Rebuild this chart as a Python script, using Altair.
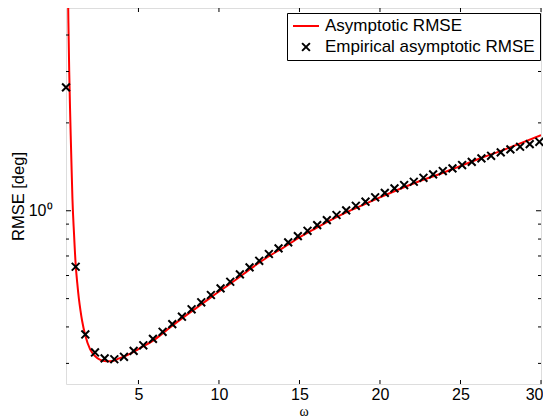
import altair as alt
import pandas as pd

# Asymptotic RMSE curve
curve_x = [0.5, 0.55, 0.6, 0.65, 0.7, 0.75, 0.8, 0.85, 0.9, 1.0, 1.1, 1.2, 1.3, 1.4, 1.5, 1.7,
           2.0, 2.3, 2.6, 3.0, 3.4, 3.8, 4.4, 5.0, 6, 7, 8, 9, 10, 11, 12, 13, 14, 15, 16,
           17, 18, 19, 20, 22, 24, 26, 28, 30]
curve_y = [30.0, 13.3, 7.0, 4.4, 3.0, 2.25, 1.75, 1.38, 1.1, 0.83, 0.655, 0.565, 0.5, 0.455, 0.42, 0.374,
           0.335, 0.318, 0.309, 0.305, 0.306, 0.312, 0.322, 0.336, 0.362, 0.40, 0.44, 0.482, 0.529, 0.578, 0.635, 0.693, 0.748, 0.81, 0.87,
           0.932, 0.993, 1.05, 1.111, 1.235, 1.355, 1.495, 1.643, 1.816]

# Empirical asymptotic RMSE (omega = 0.5, 1.1, ..., 29.9)
emp_x = [0.5, 1.1, 1.7, 2.3, 2.9, 3.5, 4.1, 4.7, 5.3, 5.9,
         6.5, 7.1, 7.7, 8.3, 8.9, 9.5, 10.1, 10.7, 11.3, 11.9,
         12.5, 13.1, 13.7, 14.3, 14.9, 15.5, 16.1, 16.7, 17.3, 17.9,
         18.5, 19.1, 19.7, 20.3, 20.9, 21.5, 22.1, 22.7, 23.3, 23.9,
         24.5, 25.1, 25.7, 26.3, 26.9, 27.5, 28.1, 28.7, 29.3, 29.9]
emp_y = [2.646, 0.643, 0.377, 0.327, 0.312, 0.310, 0.316, 0.331, 0.346, 0.364,
         0.385, 0.409, 0.4335, 0.4596, 0.4857, 0.5145, 0.5423, 0.5712, 0.6056, 0.640,
         0.674, 0.711, 0.743, 0.779, 0.819, 0.854, 0.893, 0.929, 0.967, 1.003,
         1.040, 1.074, 1.112, 1.152, 1.193, 1.225, 1.257, 1.297, 1.332, 1.368,
         1.397, 1.434, 1.471, 1.512, 1.543, 1.585, 1.623, 1.657, 1.692, 1.723]

series = ["Asymptotic RMSE", "Empirical asymptotic RMSE"]
x_ticks = [5, 10, 15, 20, 25, 30]
y_minor = [0.3, 0.4, 0.5, 0.6, 0.7, 0.8, 0.9, 2, 3, 4]
y_major = [1]

XPATH = "M-0.3,-0.3L0.3,0.3M-0.3,0.3L0.3,-0.3"
FONT = "Liberation Sans"
W, H = 475, 376

df_curve = pd.DataFrame({"x": curve_x, "y": curve_y, "series": series[0]})
df_emp = pd.DataFrame({"x": emp_x, "y": emp_y, "series": series[1]})
df_xt = pd.DataFrame({"x": x_ticks})
df_ymin = pd.DataFrame({"y": y_minor})
df_ymaj = pd.DataFrame({"y": y_major})

xs = alt.Scale(domain=[0.5, 30], nice=False, zero=False)
ys = alt.Scale(type="log", domain=[0.255, 4.95], nice=False)

legend = alt.Legend(title=None, orient="none", legendX=221, legendY=5,
                    strokeColor="black", fillColor="white", padding=5,
                    labelFont=FONT, labelFontSize=17, labelColor="black", labelLimit=400,
                    symbolSize=676, symbolStrokeWidth=2, clipHeight=16,
                    rowPadding=4, labelOffset=5, cornerRadius=0)
cscale = alt.Scale(domain=series, range=["#ff0000", "#000000"])
sscale = alt.Scale(domain=series, range=["stroke", XPATH])

x_axis = alt.Axis(values=x_ticks, ticks=False, domain=False, grid=False,
                  labelFont=FONT, labelFontSize=16, labelColor="black", labelPadding=2,
                  labelFlush=True, labelFlushOffset=2,
                  title="ω", titleFont="Liberation Serif", titleFontSize=14,
                  titleFontWeight="normal", titleColor="black",
                  titleY=20, titleBaseline="top")
y_axis = alt.Axis(values=[1], labelExpr="'10⁰'", ticks=False, domain=False, grid=False,
                  labelFont=FONT, labelFontSize=16, labelColor="black", labelPadding=14,
                  title="RMSE [deg]", titleFont=FONT, titleFontSize=16.5,
                  titleFontWeight="normal", titleColor="black",
                  titleAngle=-90, titleX=-48, titleY=188, titleAlign="center",
                  titleBaseline="middle")

line = alt.Chart(df_curve).mark_line(color="#ff0000", strokeWidth=2, clip=True,
                                     interpolate="monotone").encode(
    x=alt.X("x:Q", scale=xs, axis=x_axis),
    y=alt.Y("y:Q", scale=ys, axis=y_axis),
    color=alt.Color("series:N", scale=cscale, legend=legend),
)

pts = alt.Chart(df_emp).mark_point(filled=False, strokeWidth=2, size=676, opacity=1).encode(
    x=alt.X("x:Q", scale=xs),
    y=alt.Y("y:Q", scale=ys),
    color=alt.Color("series:N", scale=cscale, legend=legend),
    shape=alt.Shape("series:N", scale=sscale, legend=legend),
)

def yticks(df, x1, x2):
    return alt.Chart(df).mark_rule(color="black", strokeWidth=1).encode(
        y=alt.Y("y:Q", scale=ys), x=alt.value(x1), x2=alt.value(x2))

def xticks(y1, y2):
    return alt.Chart(df_xt).mark_rule(color="black", strokeWidth=1).encode(
        x=alt.X("x:Q", scale=xs), y=alt.value(y1), y2=alt.value(y2))

chart = alt.layer(
    line, pts,
    yticks(df_ymin, 0, 3), yticks(df_ymin, W, W - 3),
    yticks(df_ymaj, 0, 5), yticks(df_ymaj, W, W - 5),
    xticks(H, H - 4), xticks(0, 4),
).properties(
    width=W, height=H,
    autosize=alt.AutoSizeParams(type="none"),
    padding={"left": 58, "top": 0, "right": 2, "bottom": 36},
).configure_view(
    stroke="black", strokeWidth=1.3
).configure(background="white")

chart.save("out.html", embed_options={"renderer": "svg", "actions": False})
